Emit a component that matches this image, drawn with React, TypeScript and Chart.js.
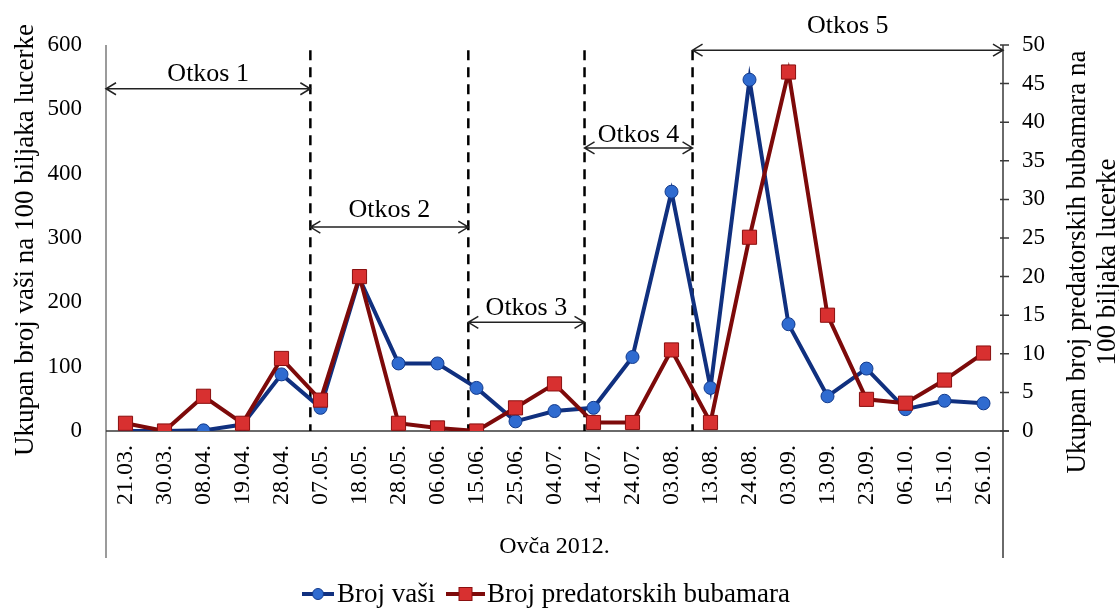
import React, { useEffect, useRef } from "react";
import { Chart, registerables } from "chart.js";

Chart.register(...registerables);

// ---- data ----
const categories = [
  "21.03.", "30.03.", "08.04.", "19.04.", "28.04.", "07.05.", "18.05.", "28.05.",
  "06.06.", "15.06.", "25.06.", "04.07.", "14.07.", "24.07.", "03.08.", "13.08.",
  "24.08.", "03.09.", "13.09.", "23.09.", "06.10.", "15.10.", "26.10.",
];
const brojVasi = [0, 0, 1, 10, 88, 36, 237, 105, 105, 67, 15, 31, 36, 115, 372, 67, 546, 166, 54, 97, 34, 47, 43];
const brojBubamara = [1, 0, 4.5, 1, 9.4, 4, 20, 1, 0.4, 0, 3, 6.1, 1.1, 1.1, 10.5, 1.1, 25.1, 46.5, 15, 4.1, 3.6, 6.6, 10.1];
const leftTicks = [0, 100, 200, 300, 400, 500, 600];
const rightTicks = [0, 5, 10, 15, 20, 25, 30, 35, 40, 45, 50];

const seriesNames = ["Broj vaši", "Broj predatorskih bubamara"];
const leftTitle = "Ukupan broj vaši na 100 biljaka lucerke";
const rightTitle = ["Ukupan broj predatorskih bubamara na", "100 biljaka lucerke"];
const xTitle = "Ovča 2012.";

// mowing periods (category-index boundaries, left-axis levels)
const cutLabels = ["Otkos 1", "Otkos 2", "Otkos 3", "Otkos 4", "Otkos 5"];
const cutBoundaries = [4.74, 8.79, 11.77, 14.54];
const cutArrowLevels = [532, 317, 169, 440, 592];
const cutTextLevels = [544, 333, 180, 449, 619];

const FONT = "'Liberation Serif', 'Times New Roman', serif";

const overlayPlugin = {
  id: "overlay",
  beforeDatasetsDraw(chart: any) {
    const { ctx, chartArea: a, scales } = chart;
    const x = scales.x;
    const y = scales.y;
    const frameBottom = a.bottom + 127;
    ctx.save();
    // frame lines
    ctx.lineWidth = 1.5;
    ctx.strokeStyle = "#7a7a7a";
    ctx.beginPath();
    ctx.moveTo(a.left, a.top);
    ctx.lineTo(a.left, frameBottom);
    ctx.stroke();
    ctx.strokeStyle = "#3a3a3a";
    ctx.beginPath();
    ctx.moveTo(a.right, a.top);
    ctx.lineTo(a.right, frameBottom);
    ctx.moveTo(a.left, a.bottom);
    ctx.lineTo(a.right + 6, a.bottom);
    ctx.stroke();
    // right ticks
    const y1 = scales.y1;
    ctx.beginPath();
    for (const t of rightTicks) {
      const py = y1.getPixelForValue(t);
      ctx.moveTo(a.right - 3, py);
      ctx.lineTo(a.right + 6, py);
    }
    ctx.stroke();
    // dashed boundaries
    ctx.setLineDash([10, 7]);
    ctx.lineWidth = 2.5;
    ctx.strokeStyle = "#000";
    const dashTop = y.getPixelForValue(592);
    for (const b of cutBoundaries) {
      const px = x.getPixelForValue(b);
      ctx.beginPath();
      ctx.moveTo(px, dashTop);
      ctx.lineTo(px, a.bottom);
      ctx.stroke();
    }
    ctx.restore();
  },
  afterDraw(chart: any) {
    const { ctx, chartArea: a, scales } = chart;
    const x = scales.x;
    const y = scales.y;
    ctx.save();
    // arrows
    const edges = [a.left, ...cutBoundaries.map((b) => x.getPixelForValue(b)), a.right];
    ctx.strokeStyle = "#222";
    ctx.lineWidth = 1.5;
    ctx.fillStyle = "#000";
    ctx.font = `26px ${FONT}`;
    ctx.textAlign = "center";
    ctx.textBaseline = "alphabetic";
    cutLabels.forEach((lab, i) => {
      const x1 = edges[i];
      const x2 = edges[i + 1];
      const py = y.getPixelForValue(cutArrowLevels[i]);
      ctx.beginPath();
      ctx.moveTo(x1, py);
      ctx.lineTo(x2, py);
      ctx.moveTo(x1 + 10, py - 6);
      ctx.lineTo(x1, py);
      ctx.lineTo(x1 + 10, py + 6);
      ctx.moveTo(x2 - 10, py - 6);
      ctx.lineTo(x2, py);
      ctx.lineTo(x2 - 10, py + 6);
      ctx.stroke();
      ctx.fillText(lab, (x1 + x2) / 2, y.getPixelForValue(cutTextLevels[i]));
    });
    // axis titles
    ctx.font = `27px ${FONT}`;
    ctx.save();
    ctx.translate(33, (a.top + a.bottom) / 2 + 2);
    ctx.rotate(-Math.PI / 2);
    ctx.fillText(leftTitle, 0, 0);
    ctx.restore();
    ctx.save();
    ctx.translate(1085, 262);
    ctx.rotate(-Math.PI / 2);
    ctx.fillText(rightTitle[0], 0, 0);
    ctx.fillText(rightTitle[1], 0, 30);
    ctx.restore();
    ctx.font = `24px ${FONT}`;
    ctx.fillText(xTitle, (a.left + a.right) / 2, a.bottom + 122);
    // legend
    const ly = 594;
    ctx.font = `27px ${FONT}`;
    ctx.textAlign = "left";
    ctx.textBaseline = "middle";
    // blue
    ctx.strokeStyle = "#10307f";
    ctx.lineWidth = 4;
    ctx.beginPath();
    ctx.moveTo(302, ly);
    ctx.lineTo(334, ly);
    ctx.stroke();
    ctx.fillStyle = "#2f6bd0";
    ctx.beginPath();
    ctx.arc(318, ly, 5.5, 0, Math.PI * 2);
    ctx.fill();
    ctx.strokeStyle = "#123a8c";
    ctx.lineWidth = 1;
    ctx.stroke();
    ctx.fillStyle = "#000";
    ctx.fillText(seriesNames[0], 337, ly + 1);
    // red
    ctx.strokeStyle = "#7d0a0a";
    ctx.lineWidth = 4;
    ctx.beginPath();
    ctx.moveTo(446, ly);
    ctx.lineTo(485, ly);
    ctx.stroke();
    ctx.fillStyle = "#d83030";
    ctx.fillRect(459, ly - 6.5, 13, 13);
    ctx.strokeStyle = "#8a0f0f";
    ctx.lineWidth = 1;
    ctx.strokeRect(459, ly - 6.5, 13, 13);
    ctx.fillStyle = "#000";
    ctx.fillText(seriesNames[1], 487, ly + 1);
    ctx.restore();
  },
};

export default function App() {
  const ref = useRef<HTMLCanvasElement | null>(null);
  useEffect(() => {
    if (!ref.current) return;
    const chart = new Chart(ref.current, {
      type: "line",
      data: {
        labels: categories,
        datasets: [
          {
            label: seriesNames[0],
            data: brojVasi,
            yAxisID: "y",
            borderColor: "#10307f",
            borderWidth: 4,
            backgroundColor: "#2f6bd0",
            pointBackgroundColor: "#2f6bd0",
            pointBorderColor: "#123a8c",
            pointBorderWidth: 1,
            pointStyle: "circle",
            pointRadius: 6.5,
            tension: 0,
            order: 2,
          },
          {
            label: seriesNames[1],
            data: brojBubamara,
            yAxisID: "y1",
            borderColor: "#7d0a0a",
            borderWidth: 4,
            backgroundColor: "#d83030",
            pointBackgroundColor: "#d83030",
            pointBorderColor: "#8a0f0f",
            pointBorderWidth: 1,
            pointStyle: "rect",
            pointRadius: 10,
            tension: 0,
            order: 1,
          },
        ],
      },
      options: {
        responsive: false,
        animation: false,
        layout: { padding: { top: 45, left: 0, right: 0, bottom: 0 } },
        plugins: {
          legend: { display: false },
          tooltip: { enabled: false },
          title: { display: false },
        },
        scales: {
          x: {
            type: "category",
            offset: true,
            grid: { display: false, drawTicks: false },
            border: { display: false },
            ticks: {
              autoSkip: false,
              minRotation: 90,
              maxRotation: 90,
              padding: 14,
              color: "#000",
              font: { family: FONT, size: 24 },
            },
            afterFit: (s: any) => {
              s.height = 181;
            },
          },
          y: {
            type: "linear",
            position: "left",
            min: 0,
            max: 600,
            afterBuildTicks: (s: any) => {
              s.ticks = leftTicks.map((v) => ({ value: v }));
            },
            grid: { display: false, drawTicks: false },
            border: { display: false },
            ticks: {
              padding: 24,
              color: "#000",
              font: { family: FONT, size: 23 },
            },
            afterFit: (s: any) => {
              s.width = 106;
            },
          },
          y1: {
            type: "linear",
            position: "right",
            min: 0,
            max: 50,
            afterBuildTicks: (s: any) => {
              s.ticks = rightTicks.map((v) => ({ value: v }));
            },
            grid: { display: false, drawTicks: false },
            border: { display: false },
            ticks: {
              padding: 19,
              color: "#000",
              font: { family: FONT, size: 23 },
            },
            afterFit: (s: any) => {
              s.width = 116;
            },
          },
        },
      },
      plugins: [overlayPlugin],
    });
    return () => chart.destroy();
  }, []);
  return (
    <div style={{ position: "fixed", left: 0, top: 0, width: 1119, height: 612, background: "#fff" }}>
      <canvas ref={ref} width={1119} height={612} />
    </div>
  );
}
